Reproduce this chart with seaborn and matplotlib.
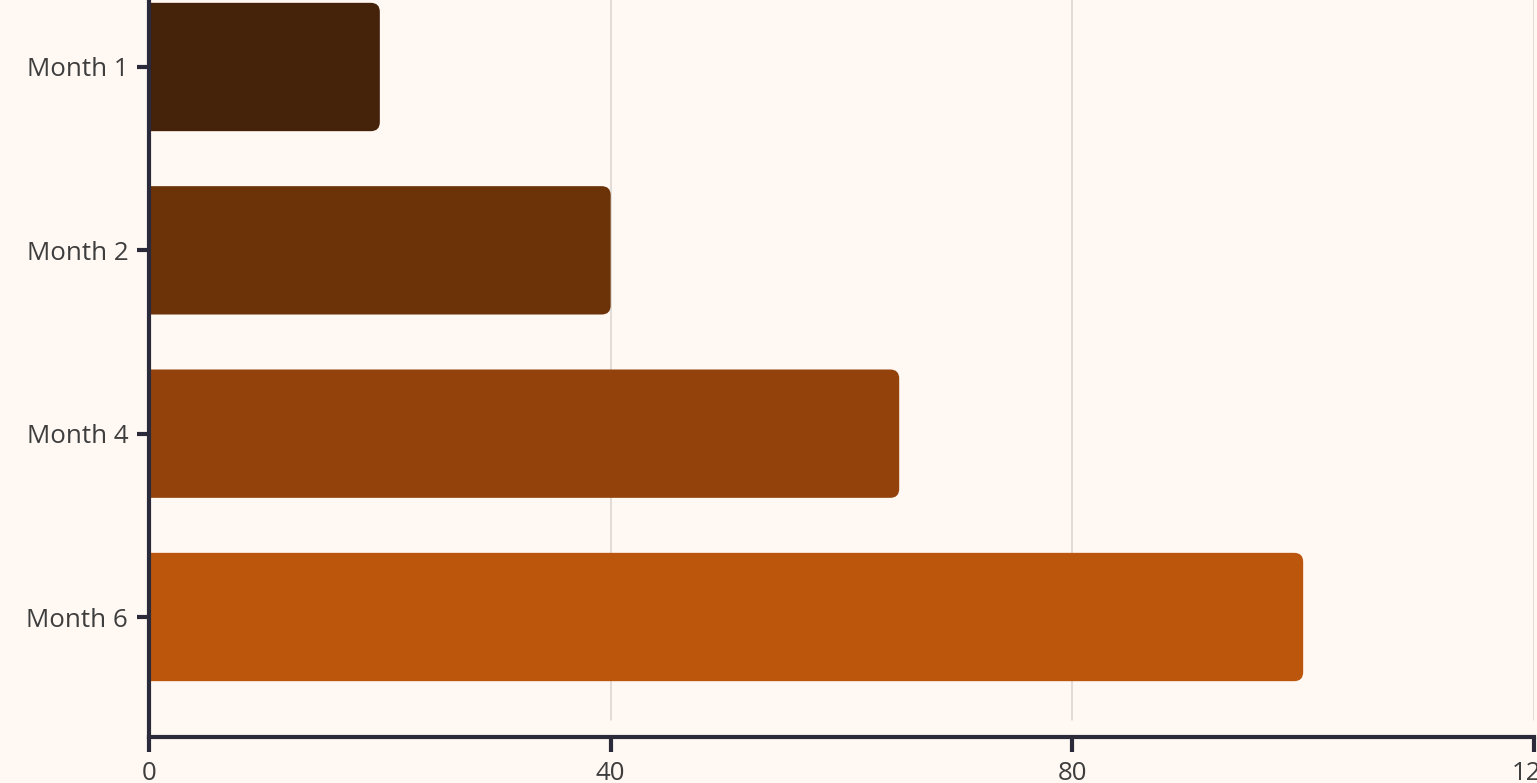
import matplotlib
matplotlib.use("Agg")
import matplotlib.pyplot as plt
import seaborn as sns
import pandas as pd
from matplotlib.patches import FancyBboxPatch

# data
months = ["Month 1", "Month 2", "Month 4", "Month 6"]
values = [20, 40, 65, 100]
bar_colors = ["#45220A", "#6C3208", "#93420C", "#BC560D"]
x_ticks = [0, 40, 80, 120]

bg = "#FFF8F3"
axis_col = "#2B2A3A"
text_col = "#3E3E3E"

sns.set_theme(style="white")
plt.rcParams["font.family"] = ["Open Sans", "DejaVu Sans"]

df = pd.DataFrame({"month": months, "value": values})

fig = plt.figure(figsize=(15.37, 7.83), dpi=100, facecolor=bg)
ax = fig.add_axes([149 / 1537, 46 / 783, 1385 / 1537, 790 / 783])
ax.set_facecolor(bg)

sns.barplot(data=df, x="value", y="month", hue="month", palette=bar_colors,
            orient="h", width=0.7, legend=False, ax=ax, saturation=1)

ax.set_xlim(0, 120)
ax.set_ylim(3.6545, -0.6545)

# swap rectangles for bars with rounded right corners
px_x = 120 / 1385
px_y = 4.309 / 790
for p in list(ax.patches):
    x0, y0 = p.get_x(), p.get_y()
    w, h = p.get_width(), p.get_height()
    c = p.get_facecolor()
    p.remove()
    r = 9 * px_x
    fb = FancyBboxPatch((x0 - 3, y0), w + 3, h,
                        boxstyle=f"round,pad=0,rounding_size={r}",
                        mutation_aspect=px_y / px_x,
                        facecolor=c, edgecolor="none", zorder=2)
    ax.add_patch(fb)

for t in x_ticks:
    ax.axvline(t, ymin=17 / 790, ymax=1, color="#DAD4D0", lw=1.1, zorder=1)

ax.set_xticks(x_ticks)
ax.set_xlabel("")
ax.set_ylabel("")
for s in ["top", "right"]:
    ax.spines[s].set_visible(False)
for s in ["left", "bottom"]:
    ax.spines[s].set_color(axis_col)
    ax.spines[s].set_linewidth(3)
    ax.spines[s].set_zorder(3)

ax.tick_params(axis="x", length=11, width=3, color=axis_col, pad=6,
               labelsize=18.6, labelcolor=text_col)
ax.tick_params(axis="y", length=9, width=3, color=axis_col, pad=6,
               labelsize=18.6, labelcolor=text_col)
ax.tick_params(bottom=True, left=True)

fig.savefig("out.png", dpi=100, facecolor=bg)
